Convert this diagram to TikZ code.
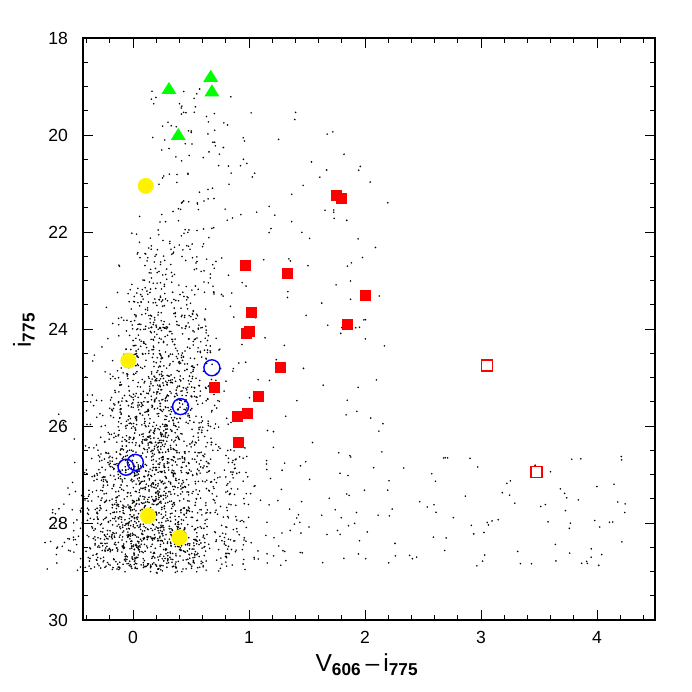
\documentclass[tikz,border=0pt]{standalone}
\usepackage{fontspec}
\setmainfont{Liberation Sans}
\begin{document}
\begin{tikzpicture}[x=0.02cm,y=-0.02cm]
\useasboundingbox (0,0) rectangle (692,692);
\def\X#1{133+116*(#1)}
\def\Y#1{38+48.5*((#1)-18)}
\pgfmathsetseed{1234}
% main continuous population
\foreach \i in {1,...,2350}{
 \pgfmathsetmacro\m{21.3+7.6*max(rnd,rnd)+0.15*rnd}
 \pgfmathsetmacro\c{0.33-0.2*(\m-21.3)/7.6+(rnd+rnd+rnd+rnd-2)*(0.3+0.3*(\m-21.3)/7.6)}
 \fill ({\X{\c}},{\Y{\m}}) circle (0.9);
}
% bright sparse
\foreach \i in {1,...,70}{
 \pgfmathsetmacro\m{19+2.6*rnd}
 \pgfmathsetmacro\c{0.15+0.7*rnd}
 \fill ({\X{\c}},{\Y{\m}}) circle (0.9);
}
% red tail
\foreach \i in {1,...,200}{
 \pgfmathsetmacro\m{26.6+2.3*rnd}
 \pgfmathsetmacro\c{0.8+3.5*rnd^2}
 \fill ({\X{\c}},{\Y{\m}}) circle (0.9);
}
% scattered
\foreach \i in {1,...,130}{
 \pgfmathsetmacro\m{19.5+7.5*rnd}
 \pgfmathsetmacro\c{0.6+1.6*rnd}
 \fill ({\X{\c}},{\Y{\m}}) circle (0.9);
}
% frame
\draw[line width=0.6pt] (83,38) rectangle (655,620);
\foreach \v in {-0.4,-0.2,...,4.41}{
 \draw ({\X{\v}},620) -- ++(0,-5); \draw ({\X{\v}},38) -- ++(0,5);}
\foreach \v in {0,...,4}{
 \draw ({\X{\v}},620) -- ++(0,-10); \draw ({\X{\v}},38) -- ++(0,10);
 \node[font=\fontsize{10}{12}\selectfont] (xl\v) at ({\X{\v}},637) {\v};}
\foreach \v in {18,18.5,...,30}{
 \draw (83,{\Y{\v}}) -- ++(5,0); \draw (655,{\Y{\v}}) -- ++(-5,0);}
\foreach \v in {18,20,...,30}{
 \draw (83,{\Y{\v}}) -- ++(10,0); \draw (655,{\Y{\v}}) -- ++(-10,0);
 \node[font=\fontsize{10}{12}\selectfont,anchor=east] (yl\v) at (74,{\Y{\v}}) {\v};}
\node[font=\fontsize{14}{16}\selectfont] (xlab) at (367,665) {V$_{\mathbf{606}}$\,--\,i$_{\mathbf{775}}$};
\node[font=\fontsize{14}{16}\selectfont,rotate=90] (ylab) at (24,330) {i$_{\mathbf{775}}$};
% symbols
\foreach \c/\m in {0.31/19.05,0.67/18.8,0.68/19.1,0.39/20.0}
 \fill[green] ({\X{\c}},{\Y{\m}}) ++(0,-7) -- ++(7.5,12) -- ++(-15,0) -- cycle;
\foreach \c/\m in {0.11/21.05,-0.04/24.65,0.13/27.85,0.4/28.3}
 \fill[yellow] ({\X{\c}},{\Y{\m}}) circle (8);
\foreach \c/\m in {0.68/24.8,0.41/25.6,-0.06/26.85,0.02/26.75}
 \draw[blue,line width=0.8pt] ({\X{\c}},{\Y{\m}}) circle (8);
\foreach \c/\m in {1.75/21.25,1.8/21.3,0.97/22.7,1.33/22.85,2.0/23.3,1.02/23.65,1.85/23.9,1.0/24.05,0.98/24.1,1.27/24.8,0.7/25.2,1.08/25.4,0.9/25.8,0.99/25.75,0.91/26.35}
 \fill[red] ({\X{\c}},{\Y{\m}}) ++(-5.5,-5.5) rectangle ++(11,11);
\foreach \c/\m in {3.05/24.75,3.48/26.95}
 \draw[red,line width=0.8pt] ({\X{\c}},{\Y{\m}}) ++(-5.5,-5.5) rectangle ++(11,11);
\end{tikzpicture}
\end{document}
